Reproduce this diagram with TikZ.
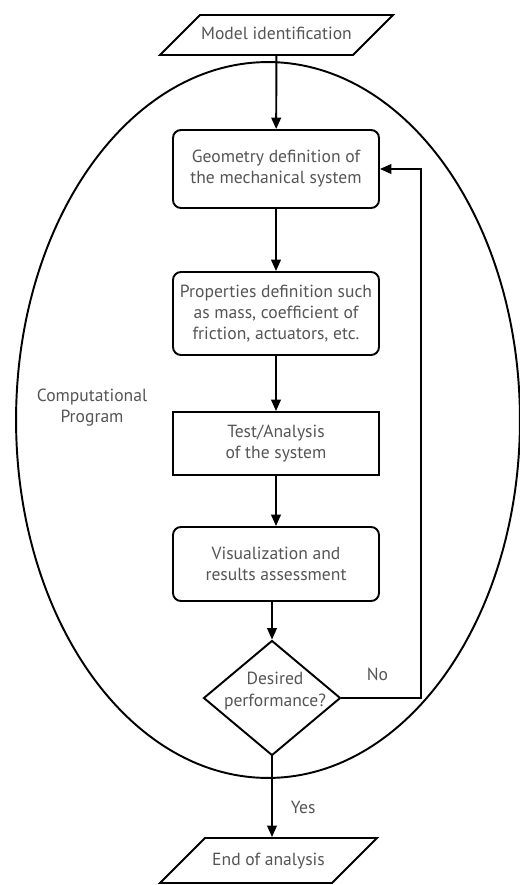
\documentclass[tikz,border=0pt]{standalone}
\usepackage{fontspec}
\setmainfont{PT Sans}
\usetikzlibrary{arrows.meta, shapes.geometric, positioning}
\definecolor{textgray}{HTML}{555555}

\begin{document}
\begin{tikzpicture}[x=0.02cm, y=-0.02cm,
    every node/.style={font=\fontsize{10}{12}\selectfont, text=textgray, align=center},
    arrowline/.style={draw=black, line width=1.1pt, -{Triangle[length=6.5pt, width=5.5pt]}},
    procbox/.style={draw, line width=1.1pt, rounded corners=4.5pt, minimum width=4.12cm, inner sep=0pt},
    testbox/.style={draw, line width=1.1pt, minimum width=4.12cm, inner sep=0pt},
    iobox/.style={draw, line width=1.1pt, trapezium, trapezium left angle=45, trapezium right angle=135,
                  trapezium stretches body, text height=0.3cm, text depth=0.1cm, inner xsep=0pt},
    decision/.style={draw, diamond, line width=1.1pt, minimum width=2.74cm, minimum height=2.3cm, inner sep=0pt}]
      \useasboundingbox (0,0) rectangle (520,885);

      \node[ellipse, draw, line width=1.1pt, minimum width=10.08cm, minimum height=14.32cm, inner sep=0pt] (prog) at (268,420) {};
      \node (comp) at (92,408) {Computational\\Program};

      \node[iobox, minimum width=4.66cm, inner ysep=0.2cm] (model) at (276.5,35) {Model identification};
      \node[procbox, minimum height=1.56cm] (geom) at (276,169) {Geometry definition of\\the mechanical system};
      \node[procbox, minimum height=1.66cm] (props) at (276,313.5) {Properties definition such\\as mass, coefficient of\\friction, actuators, etc.};
      \node[testbox, minimum height=1.26cm] (test) at (276,443.5) {Test/Analysis\\of the system};
      \node[procbox, minimum height=1.48cm] (visual) at (276,564) {Visualization and\\results assessment};
      \node[decision, label={[yshift=0.14cm, xshift=0.06cm]center:Desired\\performance?}] (perf) at (272,698) {};
      \node[iobox, minimum width=4.34cm, inner ysep=0.25cm] (end) at (268.5,860.5) {End of analysis};

      \draw[arrowline] (model) -- (geom);
      \draw[arrowline] (geom) -- (props);
      \draw[arrowline] (props) -- (test);
      \draw[arrowline] (test) -- (visual);
      \draw[arrowline] (visual.south -| perf.north) -- (perf.north);
      \draw[arrowline] (perf.south) -- (perf.south |- end.north)
            node[pos=0.63, right=0.24cm] {Yes};
      \draw[arrowline] (perf.east) -- ++(80,0) node[pos=0.45, above=0.2cm] {No} |- (geom.east);
\end{tikzpicture}
\end{document}
